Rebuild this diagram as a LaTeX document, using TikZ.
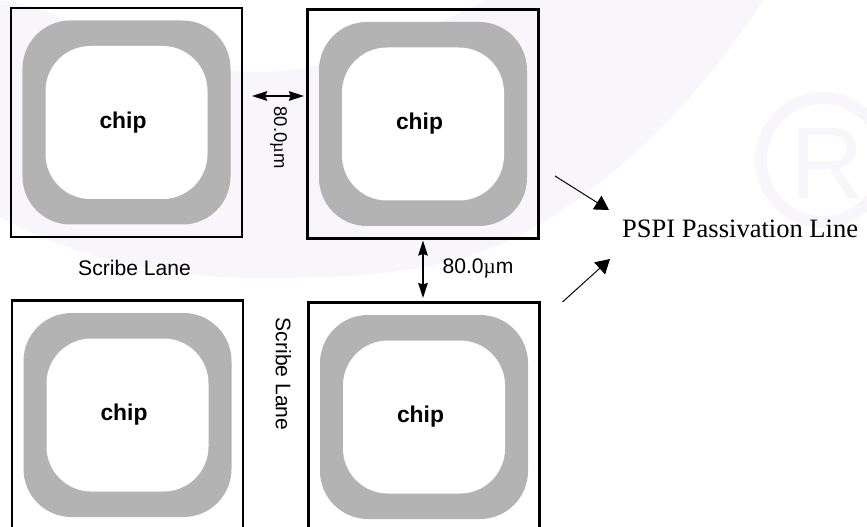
\documentclass[tikz,border=0pt]{standalone}
\usepackage{fontspec}
\setmainfont{Liberation Serif}
\setsansfont{Liberation Sans}
\usetikzlibrary{arrows.meta}
\definecolor{ringgray}{HTML}{B3B3B3}
\definecolor{marktint}{HTML}{F8F6FA}
\tikzset{
    chipbox/.style={draw, line width=1.2pt, minimum width=4.62cm, minimum height=4.58cm},
    chipring/.style={fill=ringgray, rounded corners=0.96cm, minimum width=4.16cm, minimum height=4.08cm},
    chipcore/.style={fill=white, rounded corners=0.9cm, minimum width=3.24cm, minimum height=3.06cm},
    chiplabel/.style={inner sep=0pt, font=\sffamily\bfseries\fontsize{13}{15}\selectfont},
    gaparrow/.style={{Stealth[length=0.3cm,width=0.19cm,inset=0.03cm]}-{Stealth[length=0.3cm,width=0.19cm,inset=0.03cm]}, line width=0.8pt},
    linearrow/.style={-{Triangle[length=0.28cm,width=0.32cm]}, line width=0.55pt},
    lanetext/.style={font=\sffamily\fontsize{12}{14}\selectfont}
}
\begin{document}
\begin{tikzpicture}
    \path[use as bounding box, clip] (0,0) rectangle (17.34,-10.54);

    % Faint background mark
    \fill[marktint] (0,-4.34) .. controls (1.5,-5.2) and (3.5,-5.6) .. (5.5,-5.56) .. controls (7,-5.55) and (8.5,-5.5) .. (10,-4.9) .. controls (12,-4) and (14,-2) .. (15.26,0) -- (9.74,0) .. controls (8.6,-0.55) and (7.2,-1.2) .. (6.14,-1.34) .. controls (5.6,-1.45) and (5.2,-1.45) .. (4.86,-1.44) .. controls (3.2,-1.3) and (1.9,-0.6) .. (0.74,-0.16) -- (0,0) -- cycle;
    \node[text=marktint, inner sep=0pt, font=\sffamily\fontsize{58}{60}\selectfont] (markR) at (16.54,-3.26) {R};
    \draw[marktint, line width=0.24cm] (16.46,-3.2) circle (1.24cm);

    % Chips
    \foreach \name/\cx/\cy in {A/2.53/-2.45, B/8.46/-2.48, C/2.55/-8.3, D/8.48/-8.34} {
        \node[chipbox] (box\name) at (\cx,\cy) {};
        \node[chipring] (ring\name) at (\cx,\cy) {};
        \node[chipcore] (core\name) at (\cx,\cy) {};
        \node[chiplabel] (chip\name) at ([xshift=-0.07cm]core\name) {chip};
    }

    % Scribe lane gaps
    \coordinate (gapL) at (5.04,-1.92);
    \coordinate (gapR) at (6.08,-1.92);
    \coordinate (gapT) at (8.46,-4.81);
    \coordinate (gapB) at (8.46,-5.96);
    \draw[gaparrow] (gapL) -- (gapR);
    \draw[gaparrow] (gapT) -- (gapB);
    \node[rotate=-90, font=\sffamily\fontsize{10.5}{12}\selectfont] (gapHlabel) at (5.57,-2.75) {80.0{\rmfamily\textmu}m};
    \node[lanetext] (gapVlabel) at (9.56,-5.36) {80.0{\rmfamily\textmu}m};
    \node[lanetext] (laneH) at (2.69,-5.36) {Scribe Lane};
    \node[lanetext, rotate=-90] (laneV) at (5.67,-7.48) {Scribe Lane};

    % Passivation line callout
    \node[font=\fontsize{15.1}{18}\selectfont, anchor=west] (pspi) at (12.32,-4.58) {PSPI Passivation Line};
    \coordinate (upperTail) at (11.1,-3.52);
    \coordinate (upperTip) at (12.18,-4.2);
    \coordinate (lowerTail) at (11.25,-6.04);
    \coordinate (lowerTip) at (12.2,-5.18);
    \draw[linearrow] (upperTail) -- (upperTip);
    \draw[linearrow] (lowerTail) -- (lowerTip);
\end{tikzpicture}
\end{document}
